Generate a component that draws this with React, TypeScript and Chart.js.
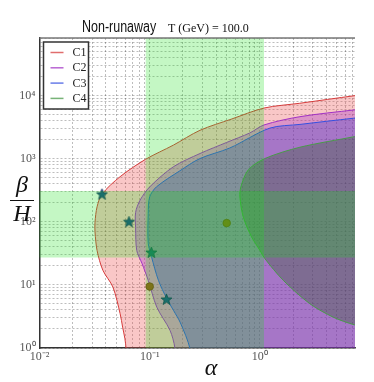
import React, { useEffect, useRef } from 'react';
import { Chart, registerables } from 'chart.js';

Chart.register(...registerables);

// ---- axis ranges ----
const X_MIN = 0.01;
const X_MAX = 7.3;
const Y_MIN = 1;
const Y_MAX = 81000;

// ---- ticks ----
const xTicks = [0.01, 0.02, 0.03, 0.04, 0.05, 0.06, 0.07, 0.08, 0.09, 0.1, 0.2, 0.3, 0.4, 0.5, 0.6, 0.7, 0.8, 0.9, 1, 2, 3, 4, 5, 6, 7];
const xMajor = [0.01, 0.1, 1];
const xMajorLabels = ['10⁻²', '10⁻¹', '10⁰'];
const yTicks = [1, 2, 3, 4, 5, 6, 7, 8, 9, 10, 20, 30, 40, 50, 60, 70, 80, 90, 100, 200, 300, 400, 500, 600, 700, 800, 900, 1000, 2000, 3000, 4000, 5000, 6000, 7000, 8000, 9000, 10000, 20000, 30000, 40000, 50000, 60000, 70000, 80000];
const yMajor = [1, 10, 100, 1000, 10000];
const yMajorLabels = ['10⁰', '10¹', '10²', '10³', '10⁴'];

// ---- region boundaries (alpha, beta/H) ----
const c1X = [10, 7.3, 2.3, 1.09, 0.55, 0.286, 0.164, 0.0916, 0.0539, 0.0369, 0.0333, 0.0319, 0.0319, 0.0333, 0.0376, 0.0464, 0.0539, 0.0568, 0.0596, 0.061, 0.062];
const c1Y = [10500, 9900, 7500, 6300, 4200, 2800, 1630, 970, 516, 273, 172, 98, 69, 35, 17, 9.2, 3.5, 2.14, 1.4, 0.98, 0.5];

const c2X = [10, 7.3, 2.31, 1.09, 0.81, 0.5, 0.286, 0.164, 0.1, 0.0818, 0.0745, 0.0745, 0.0763, 0.085, 0.097, 0.116, 0.153, 0.169, 0.172];
const c2Y = [6200, 5900, 4600, 3400, 2540, 1800, 1200, 740, 355, 219, 140, 80, 35, 22, 11.8, 4.44, 1.9, 1.02, 0.5];

const c3X = [10, 7.1, 2.31, 1.23, 0.534, 0.286, 0.188, 0.115, 0.1, 0.097, 0.097, 0.104, 0.12, 0.143, 0.165, 0.19, 0.232, 0.235];
const c3Y = [4600, 4350, 3470, 3030, 1470, 1000, 640, 355, 247, 135, 45.6, 27.5, 11.8, 6.03, 3.9, 2.5, 0.98, 0.5];

const c4X = [10, 7.2, 2.31, 1.11, 0.784, 0.672, 0.659, 0.706, 0.841, 1.0, 1.11, 1.63, 2.84, 4.63, 7.2, 10];
const c4Y = [2500, 2220, 1510, 1000, 660, 356, 247, 119, 57.4, 35.3, 26, 11.8, 5.03, 3.08, 2.33, 2.1];

// ---- shaded bands ----
const alphaBand = [0.092, 1.09];
const betaBand = [27, 305];

// ---- markers ----
const starX = [0.0369, 0.0649, 0.1035, 0.142];
const starY = [273, 100, 32.6, 5.9];
const dotX = [0.1, 0.5];
const dotY = [9.4, 95];

// ---- legend ----
const legendLabels = ['C1', 'C2', 'C3', 'C4'];
const lineColors = ['#d63c3c', '#a232c4', '#3550e0', '#4a9a4a'];
const fillColors = ['rgba(235,70,70,0.30)', 'rgba(160,40,200,0.32)', 'rgba(40,50,200,0.30)', 'rgba(55,90,50,0.36)'];
const bandColor = 'rgba(20,225,20,0.25)';

const FAR_LO = 1e-4;
const FAR_HI = 1e7;

function regionPoints(xs: number[], ys: number[]) {
  const pts = xs.map((x, i) => ({ x, y: ys[i] }));
  pts.push({ x: FAR_HI, y: ys[ys.length - 1] }, { x: FAR_HI, y: ys[0] });
  return pts;
}
function vBand(b: number[]) {
  return [{ x: b[0], y: FAR_LO }, { x: b[0], y: FAR_HI }, { x: b[1], y: FAR_HI }, { x: b[1], y: FAR_LO }];
}
function hBand(b: number[]) {
  return [{ x: FAR_LO, y: b[0] }, { x: FAR_HI, y: b[0] }, { x: FAR_HI, y: b[1] }, { x: FAR_LO, y: b[1] }];
}
function majorLabel(v: number, majors: number[], labels: string[]) {
  for (let i = 0; i < majors.length; i++) if (Math.abs(v / majors[i] - 1) < 1e-6) return labels[i];
  return '';
}
function makeStar() {
  const c = document.createElement('canvas');
  c.width = 13; c.height = 13;
  const g = c.getContext('2d')!;
  const cx = 6.5, cy = 6.9, R = 5.8, r = 2.4;
  g.beginPath();
  for (let i = 0; i < 10; i++) {
    const a = -Math.PI / 2 + (i * Math.PI) / 5;
    const rad = i % 2 ? r : R;
    g.lineTo(cx + rad * Math.cos(a), cy + rad * Math.sin(a));
  }
  g.closePath();
  g.fillStyle = '#1d4a8a';
  g.fill();
  g.strokeStyle = '#0e2a5a';
  g.lineWidth = 0.8;
  g.stroke();
  return c;
}

const decor = {
  id: 'decor',
  afterDraw(chart: any) {
    const { ctx, chartArea: a } = chart;
    ctx.save();
    // top frame
    ctx.strokeStyle = '#777';
    ctx.lineWidth = 1.5;
    ctx.beginPath();
    ctx.moveTo(a.left, a.top);
    ctx.lineTo(a.right, a.top);
    ctx.stroke();

    // legend box
    const lx = a.left + 4, ly = a.top + 4, lw = 45, lh = 67;
    ctx.fillStyle = '#fff';
    ctx.fillRect(lx, ly, lw, lh);
    ctx.strokeStyle = '#333';
    ctx.lineWidth = 1.5;
    ctx.strokeRect(lx, ly, lw, lh);
    ctx.font = '12px "Liberation Serif", serif';
    ctx.textBaseline = 'middle';
    ctx.textAlign = 'left';
    legendLabels.forEach((lab, i) => {
      const yy = ly + 10.5 + i * 15.3;
      ctx.strokeStyle = lineColors[i];
      ctx.globalAlpha = 0.75;
      ctx.lineWidth = 1.5;
      ctx.beginPath();
      ctx.moveTo(lx + 7, yy);
      ctx.lineTo(lx + 20, yy);
      ctx.stroke();
      ctx.globalAlpha = 1;
      ctx.fillStyle = '#222';
      ctx.fillText(lab, lx + 29, yy + 0.5);
    });

    // titles
    ctx.textBaseline = 'alphabetic';
    ctx.fillStyle = '#111';
    ctx.save();
    ctx.translate(82, 32);
    ctx.scale(0.78, 1);
    ctx.font = '16px "Liberation Sans", Arial, sans-serif';
    ctx.fillText('Non-runaway', 0, 0);
    ctx.restore();
    ctx.font = '12px "Liberation Serif", serif';
    ctx.fillText('T (GeV) = 100.0', 168, 32);

    // y axis title: beta / H
    ctx.textAlign = 'center';
    ctx.font = 'italic 24px "Liberation Serif", serif';
    ctx.fillText('β', 22, 192);
    ctx.strokeStyle = '#111';
    ctx.lineWidth = 1;
    ctx.beginPath();
    ctx.moveTo(10, 200.5);
    ctx.lineTo(34, 200.5);
    ctx.stroke();
    ctx.fillText('H', 22, 221);

    // x axis title
    ctx.font = 'italic 24px "Liberation Serif", serif';
    ctx.fillText('α', 211, 375);
    ctx.restore();
  },
};

export default function App() {
  const ref = useRef<HTMLCanvasElement>(null);
  useEffect(() => {
    document.body.style.margin = '0';
    const star = makeStar();
    const regions = [
      { xs: c4X, ys: c4Y, i: 3 },
      { xs: c3X, ys: c3Y, i: 2 },
      { xs: c2X, ys: c2Y, i: 1 },
      { xs: c1X, ys: c1Y, i: 0 },
    ];
    const tickFont = { family: '"Liberation Serif", serif', size: 12 };
    const chart = new Chart(ref.current!, {
      type: 'scatter',
      data: {
        datasets: [
          {
            data: hBand(betaBand),
            showLine: true,
            fill: 'shape',
            backgroundColor: bandColor,
            borderWidth: 0,
            pointRadius: 0,
            tension: 0,
          },
          {
            data: vBand(alphaBand),
            showLine: true,
            fill: 'shape',
            backgroundColor: bandColor,
            borderWidth: 0,
            pointRadius: 0,
            tension: 0,
          },
          {
            data: starX.map((x, i) => ({ x, y: starY[i] })),
            pointStyle: star as any,
            pointRadius: 6,
            showLine: false,
          },
          {
            data: dotX.map((x, i) => ({ x, y: dotY[i] })),
            pointStyle: 'circle',
            pointRadius: 3.8,
            backgroundColor: '#a0501a',
            borderColor: '#7a3812',
            borderWidth: 0.8,
            showLine: false,
          },
          ...regions.map((r) => ({
            data: regionPoints(r.xs, r.ys),
            showLine: true,
            fill: 'shape',
            backgroundColor: fillColors[r.i],
            borderColor: lineColors[r.i],
            borderWidth: 1,
            pointRadius: 0,
            tension: 0.3,
          })),
        ] as any,
      },
      options: {
        animation: false,
        responsive: false,
        devicePixelRatio: 1,
        events: [],
        layout: { padding: { top: 38, right: 19, left: 0, bottom: 0 } },
        plugins: { legend: { display: false }, tooltip: { enabled: false }, title: { display: false } },
        scales: {
          x: {
            type: 'logarithmic',
            min: X_MIN,
            max: X_MAX,
            afterBuildTicks: (s: any) => { s.ticks = xTicks.map((v) => ({ value: v })); },
            afterFit: (s: any) => { s.height = 34; },
            ticks: {
              autoSkip: false,
              maxRotation: 0,
              minRotation: 0,
              padding: 2,
              color: '#555',
              font: tickFont,
              callback: (v: any) => majorLabel(Number(v), xMajor, xMajorLabels),
            },
            grid: { color: 'rgba(0,0,0,0.33)', lineWidth: 0.8, drawTicks: false },
            border: { display: true, color: '#333', width: 1.5, dash: [2, 2] },
          },
          y: {
            type: 'logarithmic',
            min: Y_MIN,
            max: Y_MAX,
            afterBuildTicks: (s: any) => { s.ticks = yTicks.map((v) => ({ value: v })); },
            afterFit: (s: any) => { s.width = 39.5; },
            ticks: {
              autoSkip: false,
              padding: 4,
              color: '#555',
              font: tickFont,
              callback: (v: any) => majorLabel(Number(v), yMajor, yMajorLabels),
            },
            grid: { color: 'rgba(0,0,0,0.33)', lineWidth: 0.8, drawTicks: false },
            border: { display: true, color: '#333', width: 1.5, dash: [2, 2] },
          },
        },
      } as any,
      plugins: [decor],
    });
    return () => chart.destroy();
  }, []);
  return <canvas ref={ref} width={374} height={382} style={{ display: 'block', width: 374, height: 382 }} />;
}
